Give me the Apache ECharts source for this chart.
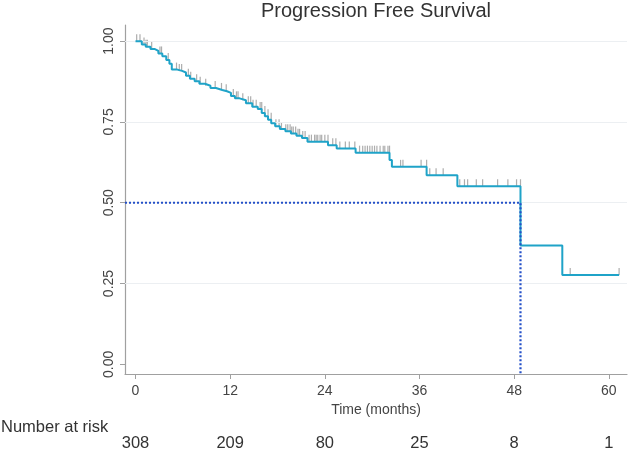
<!DOCTYPE html>
<html>
<head>
<meta charset="utf-8">
<script src="https://cdn.jsdelivr.net/npm/echarts@6/dist/echarts.min.js"></script>
<style>
html,body{margin:0;padding:0;background:#fff;}
#c{width:633px;height:453px;}
</style>
</head>
<body>
<div id="c"></div>
<script>
// Kaplan-Meier step points (months, survival probability)
const stepTimes = [0, 0.8, 1.3, 1.9, 2.4, 2.9, 3.4, 3.9, 4.3, 4.6, 5.3, 5.9, 6.4, 6.9, 7.5, 8.1, 8.8, 9.5, 10.2, 11.0, 11.6, 12.1, 12.6, 13.2, 14.0, 14.8, 15.5, 16.0, 16.4, 16.8, 17.2, 17.7, 18.3, 19.0, 19.7, 20.4, 21.1, 21.8, 24.4, 25.5, 27.9, 32.2, 32.5, 36.9, 40.8, 48.8, 54.1, 61.3];
const stepSurv  = [1.000, 0.990, 0.983, 0.976, 0.970, 0.962, 0.953, 0.942, 0.930, 0.912, 0.908, 0.903, 0.893, 0.884, 0.876, 0.868, 0.862, 0.855, 0.849, 0.845, 0.840, 0.830, 0.823, 0.817, 0.808, 0.797, 0.790, 0.778, 0.768, 0.757, 0.746, 0.737, 0.728, 0.721, 0.714, 0.707, 0.700, 0.689, 0.678, 0.668, 0.655, 0.632, 0.611, 0.585, 0.551, 0.368, 0.276, 0.276];
// Censoring times (months)
const censorTimes = [0.15, 0.57, 1.08, 1.33, 1.5, 2.05, 3.1, 3.3, 4.15, 5.2, 5.55, 5.85, 6.7, 7.0, 7.75, 8.2, 8.9, 10.1, 10.9, 11.5, 12.4, 12.8, 13.0, 13.6, 14.3, 14.6, 14.9, 15.3, 15.8, 16.0, 16.4, 16.8, 17.2, 17.8, 18.2, 18.5, 19.05, 19.3, 19.6, 19.8, 20.0, 20.3, 20.6, 20.8, 21.2, 21.5, 22.0, 22.3, 22.7, 22.9, 23.1, 23.4, 23.6, 24.0, 24.4, 25.0, 25.4, 25.9, 26.6, 27.1, 27.8, 28.4, 28.8, 29.1, 29.4, 29.7, 30.0, 30.3, 30.6, 31.0, 31.4, 31.6, 32.0, 32.2, 33.6, 33.9, 36.2, 36.9, 37.3, 38.1, 39.0, 41.1, 41.7, 42.1, 43.2, 44.0, 45.9, 47.2, 48.3, 48.8, 55.1, 61.3];
const medianTime = 48.8;
const medianSurv = 0.5;
const xTicks = [0, 12, 24, 36, 48, 60];
const yTicks = [0, 0.25, 0.5, 0.75, 1.0];
const gridValues = [0.25, 0.5, 0.75, 1.0];
const atRisk = ['308', '209', '80', '25', '8', '1'];
const titleText = 'Progression Free Survival';
const xName = 'Time (months)';
const riskLabel = 'Number at risk';

const X_MIN = -1.33, X_MAX = 62.3, Y_MIN = -0.03, Y_MAX = 1.05;

function survAt(t) {
  let v = stepSurv[0];
  for (let i = 0; i < stepTimes.length; i++) {
    if (stepTimes[i] < t) v = stepSurv[i]; else break;
  }
  return v;
}

const chart = echarts.init(document.getElementById('c'), null, {renderer: 'canvas'});
const font = 'Liberation Sans, Arial, Helvetica, sans-serif';

chart.setOption({
  animation: false,
  backgroundColor: '#fff',
  grid: {left: 125, right: 6, top: 25, bottom: 79, containLabel: false},
  xAxis: {
    type: 'value', min: X_MIN, max: X_MAX,
    name: xName, nameLocation: 'middle', nameGap: 27,
    nameTextStyle: {fontFamily: font, fontSize: 14, color: '#444'},
    axisLine: {show: true, onZero: false, lineStyle: {color: '#a0a0a0', width: 1.2}},
    axisTick: {show: true, length: 5, customValues: xTicks, lineStyle: {color: '#a0a0a0'}},
    axisLabel: {customValues: xTicks, fontFamily: font, fontSize: 14, color: '#444', margin: 10, showMinLabel: true, showMaxLabel: true},
    splitLine: {show: false}
  },
  yAxis: {
    type: 'value', min: Y_MIN, max: Y_MAX,
    axisLine: {show: true, onZero: false, lineStyle: {color: '#a0a0a0', width: 1.2}},
    axisTick: {show: true, length: 5, customValues: yTicks, lineStyle: {color: '#a0a0a0'}},
    axisLabel: {customValues: yTicks, rotate: 90, fontFamily: font, fontSize: 14, color: '#444', margin: 9,
      formatter: v => v.toFixed(2)},
    splitLine: {show: false}
  },
  series: [
    {
      type: 'line', silent: true, symbol: 'none', data: [],
      markLine: {
        silent: true, symbol: 'none', label: {show: false},
        lineStyle: {color: '#eceff2', width: 1, type: 'solid'},
        data: gridValues.map(v => ({yAxis: v}))
      }
    },
    {
      type: 'line', name: 'median', symbol: 'none', z: 6,
      lineStyle: {color: '#2450c8', width: 2.2, type: [2, 2], cap: 'butt'},
      data: [[X_MIN, medianSurv], [medianTime, medianSurv], [medianTime, Y_MIN]]
    },
    {
      type: 'scatter', name: 'censored', z: 4,
      symbol: 'rect', symbolSize: [1.2, 7], symbolOffset: [0, -3.5],
      itemStyle: {color: '#999999'},
      data: censorTimes.map(t => [t, survAt(t)])
    },
    {
      type: 'line', name: 'PFS', step: 'end', symbol: 'none', z: 5,
      lineStyle: {color: '#1fa3c8', width: 2},
      data: stepTimes.map((t, i) => [t, stepSurv[i]])
    }
  ]
});

const graphics = [];
const plotCenter = chart.convertToPixel({xAxisIndex: 0}, (X_MIN + X_MAX) / 2);
graphics.push({
  type: 'text', x: plotCenter, y: 1,
  style: {text: titleText, fontFamily: font, fontSize: 20, fill: '#333', align: 'center', verticalAlign: 'top'}
});
graphics.push({
  type: 'text', x: 1, y: 427,
  style: {text: riskLabel, fontFamily: font, fontSize: 16.5, fill: '#333', align: 'left', verticalAlign: 'middle'}
});
xTicks.forEach((t, i) => {
  graphics.push({
    type: 'text', x: chart.convertToPixel({xAxisIndex: 0}, t), y: 443,
    style: {text: atRisk[i], fontFamily: font, fontSize: 16.5, fill: '#333', align: 'center', verticalAlign: 'middle'}
  });
});
chart.setOption({graphic: graphics});
</script>
</body>
</html>
